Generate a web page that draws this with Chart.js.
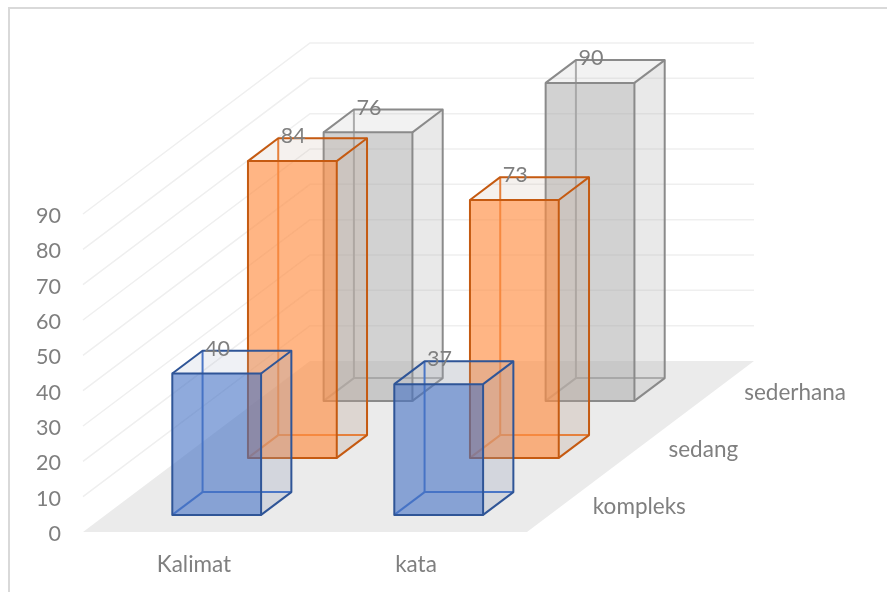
<!DOCTYPE html>
<html>
<head>
<meta charset="utf-8">
<title>Kalimat dan kata</title>
<style>
  html, body { margin: 0; padding: 0; background: #fff; overflow: hidden; }
  canvas { display: block; }
</style>
<script src="https://cdn.jsdelivr.net/npm/chart.js@4/dist/chart.umd.min.js"></script>
</head>
<body>
<canvas id="barChart" width="887" height="592"></canvas>
<script>
var categories = ['Kalimat', 'kata'];
var levels = ['kompleks', 'sedang', 'sederhana'];
var kompleks = [40, 37];
var sedang = [84, 73];
var sederhana = [76, 90];
var yTickStep = 10;
var yMax = 90;

// how far the floor runs back, split evenly over the three levels
var floorDepth = { x: 227, y: -171 };
var slot = { x: floorDepth.x / levels.length, y: floorDepth.y / levels.length };
var gapRatio = 0.3;
var boxRatio = 0.4;

var textColor = '#7f7f7f';
var fontFamily = 'Lato, "Open Sans", sans-serif';
var numberSize = 21.5;
var wordSize = 22.5;

// one style per level: front (drawn by the bar itself), faint sides, edges
var styles = [
  { front: 'rgba(68,114,196,0.6)', side: 'rgba(150,160,185,0.28)', top: 'rgba(165,175,200,0.18)', edge: '#2f5597', inner: '#4a76c6' },
  { front: 'rgba(255,141,66,0.65)', side: 'rgba(190,165,150,0.3)', top: 'rgba(190,165,150,0.16)', edge: '#c55a11', inner: '#e5803c' },
  { front: 'rgba(165,165,165,0.5)', side: 'rgba(165,165,165,0.24)', top: 'rgba(165,165,165,0.15)', edge: '#8a8a8a', inner: '#ababab' }
];

function path(ctx, pts) {
  ctx.beginPath();
  pts.forEach(function(p, i) {
    if (i === 0) ctx.moveTo(p[0], p[1]); else ctx.lineTo(p[0], p[1]);
  });
}

function boxOffset(i) {
  return { x: slot.x * (i + gapRatio), y: slot.y * (i + gapRatio) };
}

var walls = {
  id: 'walls',
  beforeDatasetsDraw: function(chart) {
    var ctx = chart.ctx, area = chart.chartArea, y = chart.scales.y;
    var zero = y.getPixelForValue(0);
    ctx.save();

    // frame around the chart, runs off the right and bottom of the page
    ctx.strokeStyle = '#d9d9d9';
    ctx.lineWidth = 2;
    ctx.strokeRect(9, 8, 900, 620);

    // gridlines up the side wall and across the back wall
    ctx.strokeStyle = '#efefef';
    ctx.lineWidth = 1.5;
    y.ticks.forEach(function(t) {
      if (t.value === 0) return;
      var py = y.getPixelForValue(t.value);
      path(ctx, [
        [area.left, py],
        [area.left + floorDepth.x, py + floorDepth.y],
        [area.right + floorDepth.x, py + floorDepth.y]
      ]);
      ctx.stroke();
    });

    ctx.fillStyle = '#ebebeb';
    path(ctx, [
      [area.left, zero],
      [area.right, zero],
      [area.right + floorDepth.x, zero + floorDepth.y],
      [area.left + floorDepth.x, zero + floorDepth.y]
    ]);
    ctx.closePath();
    ctx.fill();
    ctx.restore();
  },
  afterDatasetsDraw: function(chart) {
    var ctx = chart.ctx, area = chart.chartArea, zero = chart.scales.y.getPixelForValue(0);
    ctx.save();
    ctx.fillStyle = textColor;

    // level names along the right edge of the floor
    ctx.font = wordSize + 'px ' + fontFamily;
    ctx.textAlign = 'left';
    ctx.textBaseline = 'middle';
    levels.forEach(function(name, i) {
      ctx.fillText(name, area.right + slot.x * (i + 0.5) + 28, zero + slot.y * (i + 0.5) + 3);
    });

    // value on top of each box, level by level from the back
    ctx.font = numberSize + 'px ' + fontFamily;
    ctx.textAlign = 'center';
    for (var i = levels.length - 1; i >= 0; i--) {
      var off = boxOffset(i);
      chart.getDatasetMeta(i).data.forEach(function(bar, j) {
        var x = bar.x - bar.width / 2 + off.x + slot.x * boxRatio + 15;
        var py = bar.y + off.y + slot.y * boxRatio - 2;
        ctx.fillText(chart.data.datasets[i].data[j], x, py);
      });
    }
    ctx.restore();
  }
};

// bars are moved back to their level, the parts behind the front face are
// painted first, the bar element fills the front, and its outline goes last
var boxes = {
  id: 'boxes',
  beforeDatasetDraw: function(chart, args) {
    var ctx = chart.ctx, style = styles[args.index];
    var off = boxOffset(args.index);
    var dx = slot.x * boxRatio, dy = slot.y * boxRatio;
    ctx.save();
    ctx.translate(off.x, off.y);
    args.meta.data.forEach(function(bar) {
      var l = bar.x - bar.width / 2, r = bar.x + bar.width / 2;
      var t = bar.y, b = bar.base;

      ctx.lineJoin = 'round';
      ctx.fillStyle = style.side;
      path(ctx, [[r, t], [r + dx, t + dy], [r + dx, b + dy], [r, b]]);
      ctx.closePath();
      ctx.fill();
      ctx.fillStyle = style.top;
      path(ctx, [[l, t], [l + dx, t + dy], [r + dx, t + dy], [r, t]]);
      ctx.closePath();
      ctx.fill();

      ctx.lineWidth = 2;
      ctx.strokeStyle = style.inner;
      path(ctx, [[l + dx, t + dy], [l + dx, b + dy], [r + dx, b + dy]]);
      ctx.stroke();
      path(ctx, [[l, b], [l + dx, b + dy]]);
      ctx.stroke();

      ctx.strokeStyle = style.edge;
      path(ctx, [[l, t], [l + dx, t + dy], [r + dx, t + dy], [r + dx, b + dy], [r, b]]);
      ctx.stroke();
      path(ctx, [[r, t], [r + dx, t + dy]]);
      ctx.stroke();
    });
  },
  afterDatasetDraw: function(chart, args) {
    var ctx = chart.ctx;
    ctx.lineWidth = 2;
    ctx.strokeStyle = styles[args.index].edge;
    args.meta.data.forEach(function(bar) {
      ctx.strokeRect(bar.x - bar.width / 2, bar.y, bar.width, bar.base - bar.y);
    });
    ctx.restore();
  }
};

var series = [kompleks, sedang, sederhana].map(function(values, i) {
  return {
    label: levels[i],
    data: values,
    backgroundColor: styles[i].front,
    borderWidth: 0,
    inflateAmount: 0,
    grouped: false,
    categoryPercentage: 1,
    barPercentage: 0.4,
    clip: false
  };
});

var myChart = new Chart(document.getElementById('barChart'), {
  type: 'bar',
  data: { labels: categories, datasets: series },
  options: {
    responsive: false,
    animation: false,
    layout: { padding: { top: 214, right: 360, left: 0, bottom: 0 } },
    plugins: {
      legend: { display: false },
      tooltip: { enabled: false }
    },
    scales: {
      x: {
        grid: { display: false, drawTicks: false },
        border: { display: false },
        ticks: { color: textColor, font: { family: fontFamily, size: wordSize }, padding: 19, maxRotation: 0 },
        afterFit: function(scale) { scale.height = 60; }
      },
      y: {
        min: 0,
        max: yMax,
        grid: { display: false, drawTicks: false },
        border: { display: false },
        ticks: { stepSize: yTickStep, color: textColor, font: { family: fontFamily, size: numberSize }, padding: 22 },
        afterFit: function(scale) {
          scale.width = 83;
          // Lato sits high on its line, nudge the tick labels down
          if (!scale.nudged) {
            var drawLabels = scale.drawLabels;
            scale.drawLabels = function(area) {
              this.ctx.save();
              this.ctx.translate(0, 2);
              drawLabels.call(this, area);
              this.ctx.restore();
            };
            scale.nudged = true;
          }
        }
      }
    }
  },
  plugins: [walls, boxes]
});
</script>
</body>
</html>
